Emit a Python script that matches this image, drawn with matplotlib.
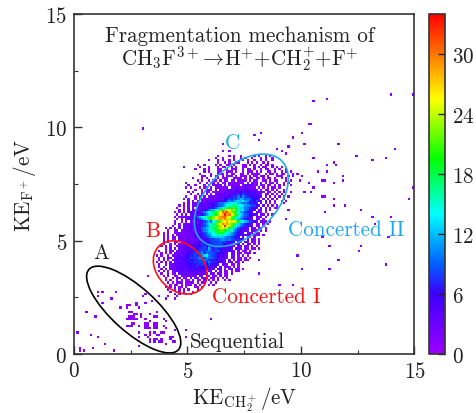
import numpy as np
import matplotlib
matplotlib.use("Agg")
import matplotlib.pyplot as plt
from matplotlib.colors import LinearSegmentedColormap
from matplotlib.patches import Ellipse

plt.rcParams['font.family'] = ['cmr10']
plt.rcParams['mathtext.fontset'] = 'cm'
plt.rcParams['axes.formatter.use_mathtext'] = True
plt.rcParams['axes.unicode_minus'] = False

# dense part: (lower bin edge y, left bin edge x, base-36 counts per 0.1 eV bin, '.' = empty)
dense_rows = [
 (8.7, 6.3, "1....1.1..1.....1.1..1.1"),
 (8.6, 6.2, "1..1....1..1.1..1...1.1..1"),
 (8.5, 5.9, "1...1.1..1.1...1.1..1..1.1..1"),
 (8.4, 6.3, "1..1.1..11...1.1.1..1.1"),
 (8.3, 5.4, "1..1....1.1..11.1...11.1.1..1.11.1"),
 (8.2, 4.8, "1......1...1...1.11..1.1..11...1.1.11..1.1.1"),
 (8.1, 5.3, "1...1.1...11..1.111..1.11.1..1.11..1.1..1"),
 (8.0, 5.7, "1.1...11..111.1..1.111.1.1..11.1..1.1.1"),
 (7.9, 5.5, "1....1..111.1.11..11.1.1111..1.11.1.11...1.1"),
 (7.8, 5.6, "11..1.11.1.111.1.112.1.11.12.1...111..1.1"),
 (7.7, 5.2, "1...1.1....1.111..2111.1.21.11.1.11.2..1.1"),
 (7.6, 5.4, "1.1..1.11.1.21.11.2131.1.21..12.1.11...1.1"),
 (7.5, 4.9, "1.....1..1.11.2.11.3112121.1.321.2.1.11.2..1.1"),
 (7.4, 5.0, "1..1...1.1.2112.2.13122.2343312.11.12.1.2.1..1"),
 (7.3, 5.1, "1...1.12.1.212113.23432241312.1.1.1.21.1"),
 (7.2, 5.3, "1..1.121.2.31234335443463232.1.21.1.1..1"),
 (7.1, 5.0, "1.1...1.21.12321343435467654453331.12.1.2.1..1"),
 (7.0, 5.1, "1..1.1.2.1.234242456376876574352.21.1.1.1"),
 (6.9, 4.9, "1...1.2.1.2323243565787a7b87765653.2.3.1.1.1.1"),
 (6.8, 4.8, "1.1..1.21232424352658798acb9a97654.3.2.1.1..1"),
 (6.7, 5.0, "1.2.1.324343545768a9bcdceba876954.3.2.1..1.1"),
 (6.6, 4.8, "1.2.322434346578a9bcdedfcb9a86764.3.2.1.1"),
 (6.5, 4.6, "1.1.2.32435435467 89acefghgfedba98864.3.2.1.1".replace(" ", "")),
 (6.4, 4.5, "1..1.2.3.334346579bceghjhkifdca98654.3.2.2.11"),
 (6.3, 4.4, "..1.1.2.33245679bceglkmrplqkgdea8754.32.2.1"),
 (6.2, 4.4, "1.1.2.3434568acfgiknpvuwrmjgfba8653.321.1"),
 (6.1, 4.4, ".1.1.2.3435768bdehjmqsxtupmkgdb986643.22.1.1"),
 (6.0, 4.4, "1.12323457acfegikmprtuvrpligfca8754.322.1"),
 (5.9, 4.4, ".1.2.2344579bdfhjnqstrurnkhfca97643.21.1"),
 (5.8, 4.4, "1..1.2.3234568ac9egkmoqsqrpmjgeca8753.322.1"),
 (5.7, 4.3, ".1.1.2233444579bdfiloqurtnlifdb97643.21.1.1"),
 (5.6, 4.3, "1..2.2333445678acegilnpxqrkhfca97543.21.1"),
 (5.5, 4.0, "1.1.2.2.333435579acdgikmoqnojgdb97543.32.11.1"),
 (5.4, 4.0, ".1..22.2323424568abdfgikmljhgeb975443.322.1.1"),
 (5.3, 3.9, "1.1..12222323445678acdfhjijhfdb98654.322.11"),
 (5.2, 3.9, "1.2.1.22232233445679acefgfgedca97654433.211.1"),
 (5.1, 3.9, "1.2.22.32232344556789bcdcdcba98765.4.32.1"),
 (5.0, 3.9, "1.1.12.222232233345678899aba9a887765.4.21.1"),
 (4.9, 3.9, "1.1..12.233433445676678889887654.43.32.21.1"),
 (4.8, 3.9, "1..1.1.224334456786677888976554.43.3.22.1.1"),
 (4.7, 3.8, "1.1.1..23335345566786977998765433.32.21.1.1"),
 (4.6, 3.8, "..1.2.2.3343456667887c9787665654.432.21.11.1"),
 (4.5, 3.7, "1..1.12.32344545678989a97897665432.2.11.1"),
 (4.4, 3.7, ".1.2.2.342455657889b7a998766543.33.21.121.1"),
 (4.3, 3.6, "1.1..1.2334345677879adea98765543.22.1.1.1"),
 (4.2, 3.6, ".1.1.22.34455568789ac8b9a8765443.22.11.1.1"),
 (4.1, 3.7, "1.2.2.33435567677898a987765443.3.2.21.11"),
 (4.0, 3.6, "1.1.2.2.334354676878897a8776543.22.11.1"),
 (3.9, 3.6, ".1..2.2343445566768787687654.322.11.1"),
 (3.8, 3.7, "1.2..233344455667656676544.3.221.1.1"),
 (3.7, 3.7, ".1.2.23344453554655665544.33.2.22.11.1"),
 (3.6, 3.7, "1.2.2.233344354545354.43.3.2.21.1.11"),
 (3.5, 3.8, "1..2.12.3334333442333.32.21.11.1"),
 (3.4, 3.9, "1.2..21.2223323.33.22.21.1.11"),
 (3.3, 3.9, ".1..2.12.21.3.22.221.21.1.1.1"),
 (3.2, 4.0, "1.1..1.2.11.2.11.2.1.1.1..1.1"),
 (3.1, 4.1, "1.1.121.1211.1.11..1.1"),
 (3.0, 4.1, ".1.11.1.111.1.1...1.1"),
 (2.9, 4.0, "1.1.1.11.1...11.1"),
 (2.8, 4.1, "1..1.1.1.1...1"),
 (2.7, 4.2, "1...1.1...1"),
 (2.6, 4.4, "1.1..1.1"),
 (2.5, 3.7, "1...1...1"),
 (2.4, 4.0, "1...1"),
]

# isolated cells, read one by one
stray_x = [3.06, 10.5, 11.12, 13.93, 14.97, 10.3, 10.4, 10.0, 9.6, 10.1, 11.6, 14.1, 9.4, 12.4, 13.1,
           13.7, 10.5, 11.1, 11.4, 11.5, 11.1, 10.7, 11.8, 11.8, 10.9, 11.0, 11.4, 10.0, 9.9, 10.3,
           14.9, 10.5, 10.1, 10.4, 10.9, 11.0, 11.4, 14.7, 11.4, 11.9, 12.6, 11.0, 13.1, 13.9, 13.2,
           13.8, 10.9, 12.6, 12.5, 11.2, 9.8, 11.6, 13.7, 10.0, 11.2, 8.1, 8.1, 9.0, 9.6, 6.0, 4.97,
           4.97, 7.9, 8.2, 8.1, 6.5, 6.5, 6.8, 8.9, 9.1, 9.3, 4.9, 3.2, 3.4, 9.2, 9.4, 9.3]
stray_y = [9.97, 11.17, 11.28, 11.48, 11.48, 10.18, 10.18, 9.78, 9.58, 9.28, 9.28, 9.07, 9.17, 8.78, 8.57,
           8.67, 8.67, 8.37, 8.47, 8.37, 8.07, 8.07, 7.87, 7.67, 7.67, 7.67, 7.57, 7.87, 7.67, 7.57,
           7.37, 7.37, 7.17, 7.17, 6.97, 6.97, 6.87, 6.87, 6.57, 6.57, 6.37, 6.25, 6.06, 6.06, 5.76,
           5.15, 5.1, 4.75, 4.56, 4.75, 4.34, 4.16, 3.96, 3.75, 3.75, 4.16, 3.56, 3.06, 3.06, 1.54, 1.07,
           0.75, 9.6, 9.7, 9.4, 9.2, 8.9, 8.9, 9.0, 8.9, 8.8, 7.37, 3.4, 2.3, 6.6, 6.3, 5.9]

# sequential channel, per row
seq_rows = {
 2.7: [1.0, 1.2, 1.8], 2.6: [3.1], 2.5: [1.0, 3.0], 2.4: [1.6], 2.2: [1.2, 2.7, 3.1], 2.1: [2.3, 2.4, 2.7],
 2.0: [2.0, 2.3, 2.8], 1.8: [0.5, 2.4, 2.5, 3.6], 1.7: [2.6, 2.7, 2.9, 3.3], 1.6: [0.9, 2.4, 2.5, 2.6, 2.9, 3.5, 3.6],
 1.5: [2.3, 2.4, 2.5, 2.6, 2.7, 3.1, 3.9], 1.4: [3.3, 4.0], 1.3: [2.5, 2.6, 3.1, 3.2, 3.5, 3.6],
 1.2: [2.3, 2.4, 2.5, 2.8, 3.1, 3.2, 3.5, 3.6, 3.9], 1.1: [3.1, 3.2, 3.3, 3.5, 3.6, 4.0], 1.0: [4.4],
 0.9: [0.1, 2.8, 3.3, 3.5, 3.8, 3.9], 0.8: [0.7, 3.1, 3.3, 3.6, 3.7], 0.7: [1.0, 2.8, 3.2, 4.2, 4.3],
 0.6: [3.3, 3.5, 3.6, 3.8, 4.2], 0.5: [3.3, 3.5, 3.7, 3.8, 4.3, 4.4], 0.4: [1.3, 4.0], 0.3: [2.8],
 0.2: [0.2, 0.8], 0.1: [0.2, 0.4, 1.7],
}

tick_vals = [0, 5, 10, 15]
cbar_ticks = [0, 6, 12, 18, 24, 30]
cmap_stops = [(0.0, '#9a00ff'), (6 / 34, '#3c00ff'), (9 / 34, '#0060ff'), (14 / 34, '#00ffff'),
              (19.5 / 34, '#00ff00'), (25.5 / 34, '#ffff00'), (1.0, '#ff0000')]

edges = np.linspace(0, 15, 151)
counts = np.zeros((150, 150))
for y, x0, s in dense_rows:
    for i, ch in enumerate(s):
        if ch != '.':
            counts[int(round(y * 10)), int(round(x0 * 10)) + i] += int(ch, 36)
for x, y in zip(stray_x, stray_y):
    counts[int(y * 10), int(x * 10)] += 1
for y, xs in seq_rows.items():
    for x in xs:
        counts[int(round(y * 10)), int(round(x * 10))] += 1

cmap = LinearSegmentedColormap.from_list('ke', cmap_stops, N=256)

W, H = 477, 414
fig = plt.figure(figsize=(W / 100, H / 100), dpi=100)
ax = fig.add_axes([74 / W, (H - 355) / H, 340.5 / W, 340 / H])
mesh = ax.pcolormesh(edges, edges, np.ma.masked_equal(counts, 0), cmap=cmap, vmin=0, vmax=34,
                     shading='flat', antialiased=False, rasterized=True)
ax.set_xlim(0, 15)
ax.set_ylim(0, 15)
ax.set_xticks(tick_vals)
ax.set_yticks(tick_vals)
ax.set_xticks([2.5, 7.5, 12.5], minor=True)
ax.set_yticks([2.5, 7.5, 12.5], minor=True)
fs = 15.2
ax.tick_params(axis='both', which='major', direction='in', length=6, width=1.0, color='#333333',
               labelsize=fs, pad=5, labelcolor='#222222')
ax.tick_params(axis='both', which='minor', direction='in', length=3, width=0.8, color='#333333')
for sp in ax.spines.values():
    sp.set_linewidth(1.2)
    sp.set_color('#333333')

ax.set_xlabel(r'KE$_{\mathrm{CH}_2^+}$/eV', fontsize=fs, color='#222222', labelpad=2.5)
ax.set_ylabel(r'KE$_{\mathrm{F}^+}$/eV', fontsize=fs, color='#222222', labelpad=5)

for cen, w, h, ang, col in [((2.63, 1.96), 5.3, 1.95, -42, 'black'),
                            ((4.68, 3.82), 2.65, 2.03, -44, '#ff1010'),
                            ((7.37, 6.78), 4.98, 3.0, 44, '#1eaaf0')]:
    ax.add_patch(Ellipse(cen, w, h, angle=ang, fill=False, edgecolor=col, linewidth=1.2))

dark = '#222222'
ax.text(7.3, 14.05, 'Fragmentation mechanism of', ha='center', va='center', fontsize=fs, color=dark)
ax.text(7.3, 13.05, r'CH$_3$F$^{3+}\!\rightarrow\!$H$^{+}$+CH$_2^{+}$+F$^{+}$', ha='center', va='center',
        fontsize=fs, color=dark)
ax.text(1.22, 4.5, 'A', ha='center', va='center', fontsize=fs, color=dark)
ax.text(3.46, 5.45, 'B', ha='center', va='center', fontsize=fs, color='#ff1010')
ax.text(7.0, 9.35, 'C', ha='center', va='center', fontsize=fs, color='#1eaaf0')
ax.text(9.44, 5.5, 'Concerted II', ha='left', va='center', fontsize=fs, color='#1eaaf0')
ax.text(6.08, 2.55, 'Concerted I', ha='left', va='center', fontsize=fs, color='#ff1010')
ax.text(5.1, 0.57, 'Sequential', ha='left', va='center', fontsize=fs, color=dark)

cax = fig.add_axes([429 / W, (H - 355) / H, 16 / W, 340 / H])
cb = fig.colorbar(mesh, cax=cax)
cb.set_ticks(cbar_ticks)
cb.ax.tick_params(direction='in', length=5, width=1.0, color='#222222', labelsize=fs, pad=5,
                  labelcolor='#222222')
cb.outline.set_linewidth(1.2)
cb.outline.set_edgecolor('#333333')

fig.savefig('out.png', dpi=100)
